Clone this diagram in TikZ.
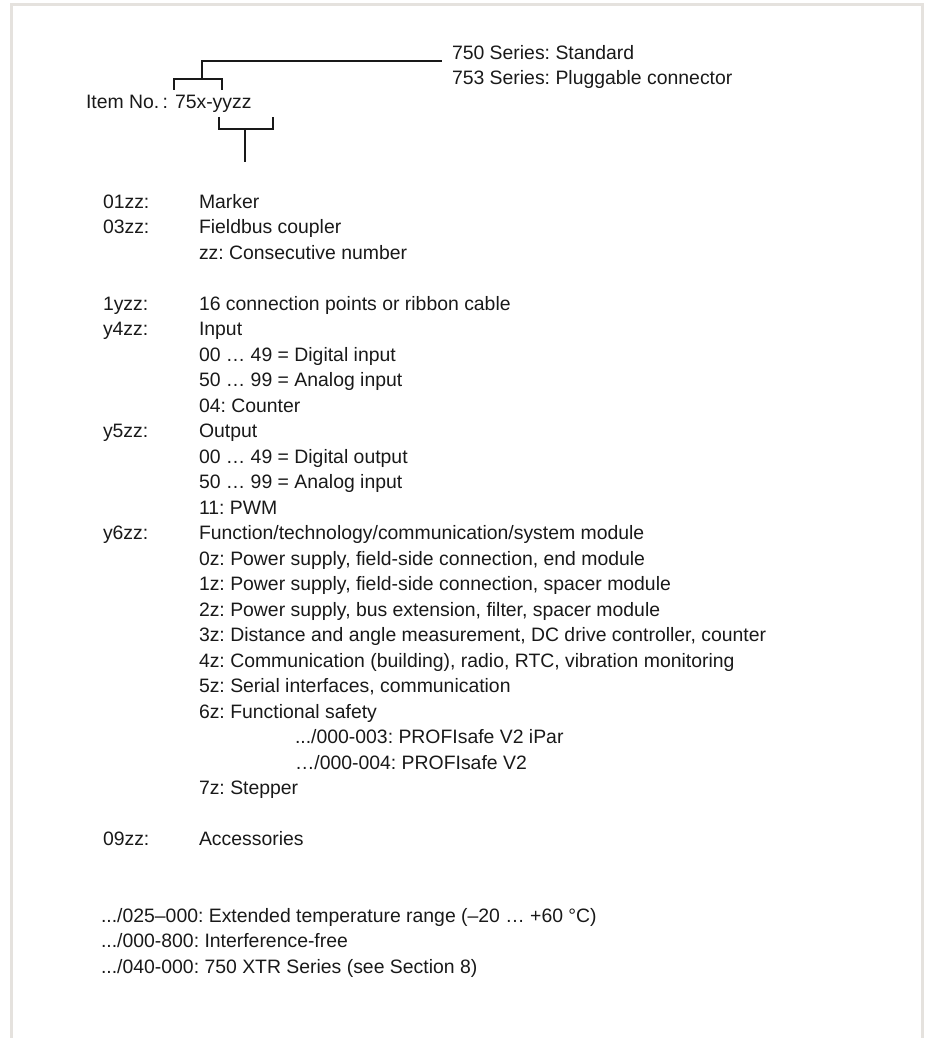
\documentclass[tikz,border=0pt]{standalone}
\usepackage{fontspec}
\setmainfont{Liberation Sans}
\definecolor{framegray}{RGB}{229,226,222}
\definecolor{ink}{RGB}{25,25,25}
\newcommand\txtsize{\fontsize{19.4}{23}\selectfont\frenchspacing}
\begin{document}
\begin{tikzpicture}[x=1pt,y=-1pt,
  txt/.style={anchor=base west, inner sep=0pt, outer sep=0pt, font=\txtsize, text=ink},
  bracket/.style={draw=ink, line width=1.5pt},
  frameline/.style={draw=framegray, line width=2.5pt}]
\useasboundingbox (0,0) rectangle (929,1038);
% frame (open at bottom)
\draw[frameline] (11.5,1038) -- (11.5,4.5) -- (922.5,4.5) -- (922.5,1038);

% header
\node[txt] (s750) at (452,60) {750 Series: Standard};
\node[txt] (s753) at (452,85) {753 Series: Pluggable connector};
\node[txt] (item) at (86,109) {Item No.\,:};
\node[txt] (code) at (175,109) {75x-yyzz};

\coordinate (ua) at (174,90);
\coordinate (ub) at (174,79);
\coordinate (uc) at (222,79);
\coordinate (ud) at (222,90);
\coordinate (um) at (202,79);
\coordinate (ut) at (202,61);
\coordinate (ue) at (442,61);
\draw[bracket] (ua) -- (ub) -- (uc) -- (ud);
\draw[bracket] (um) -- (ut) -- (ue);

\coordinate (la) at (219,117);
\coordinate (lb) at (219,129);
\coordinate (lc) at (273,129);
\coordinate (ld) at (273,117);
\coordinate (lm) at (245,129);
\coordinate (lt) at (245,162);
\draw[bracket] (la) -- (lb) -- (lc) -- (ld);
\draw[bracket] (lm) -- (lt);

% list
\node[txt] (k0) at (103,208) {01zz:};
\node[txt] (d0) at (199,208) {Marker};
\node[txt] (k1) at (103,233.5) {03zz:};
\node[txt] (d1) at (199,233.5) {Fieldbus coupler};
\node[txt] (d2) at (199,259) {zz: Consecutive number};

\node[txt] (k4) at (103,310) {1yzz:};
\node[txt] (d4) at (199,310) {16 connection points or ribbon cable};
\node[txt] (k5) at (103,335.5) {y4zz:};
\node[txt] (d5) at (199,335.5) {Input};
\node[txt] (d6) at (199,361) {00 … 49 = Digital input};
\node[txt] (d7) at (199,386.5) {50 … 99 = Analog input};
\node[txt] (d8) at (199,412) {04: Counter};
\node[txt] (k9) at (103,437.5) {y5zz:};
\node[txt] (d9) at (199,437.5) {Output};
\node[txt] (d10) at (199,463) {00 … 49 = Digital output};
\node[txt] (d11) at (199,488.5) {50 … 99 = Analog input};
\node[txt] (d12) at (199,514) {11: PWM};
\node[txt] (k13) at (103,539.5) {y6zz:};
\node[txt] (d13) at (199,539.5) {Function/technology/communication/system module};
\node[txt] (d14) at (199,565) {0z: Power supply, field-side connection, end module};
\node[txt] (d15) at (199,590.5) {1z: Power supply, field-side connection, spacer module};
\node[txt] (d16) at (199,616) {2z: Power supply, bus extension, filter, spacer module};
\node[txt] (d17) at (199,641.5) {3z: Distance and angle measurement, DC drive controller, counter};
\node[txt] (d18) at (199,667) {4z: Communication (building), radio, RTC, vibration monitoring};
\node[txt] (d19) at (199,692.5) {5z: Serial interfaces, communication};
\node[txt] (d20) at (199,718) {6z: Functional safety};
\node[txt] (d21) at (295,743.5) {.../000-003: PROFIsafe V2 iPar};
\node[txt] (d22) at (295,769) {…/000-004: PROFIsafe V2};
\node[txt] (d23) at (199,794.5) {7z: Stepper};

\node[txt] (k25) at (103,845.5) {09zz:};
\node[txt] (d25) at (199,845.5) {Accessories};

\node[txt] (f1) at (101,922) {.../025–000: Extended temperature range (–20 … +60 °C)};
\node[txt] (f2) at (101,947.5) {.../000-800: Interference-free};
\node[txt] (f3) at (101,973) {.../040-000: 750 XTR Series (see Section 8)};
\end{tikzpicture}
\end{document}
